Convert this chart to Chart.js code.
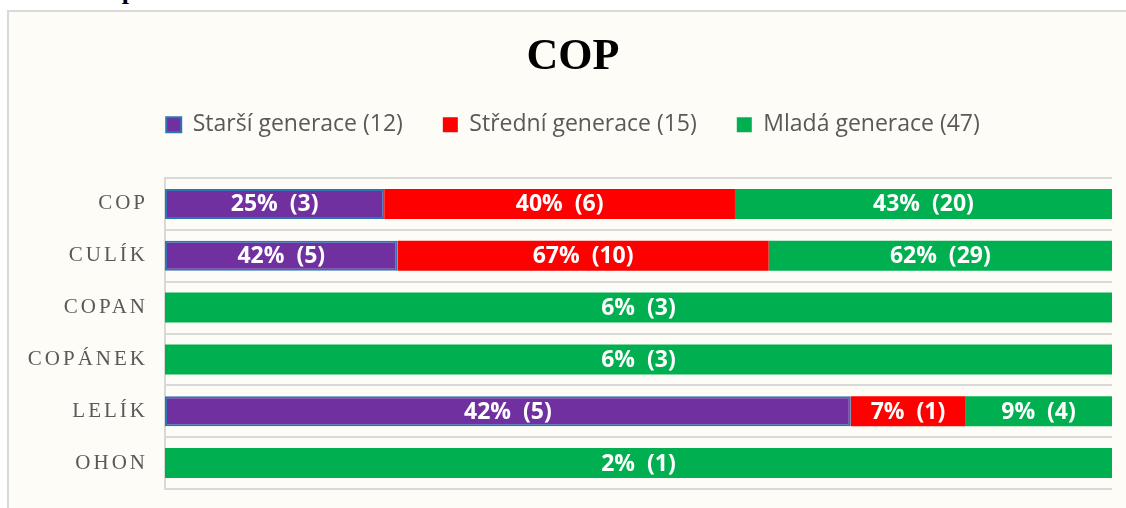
<!DOCTYPE html>
<html>
<head>
<meta charset="utf-8">
<script src="https://cdn.jsdelivr.net/npm/chart.js@4/dist/chart.umd.min.js"></script>
<style>
html, body { margin: 0; padding: 0; background: #fff; width: 1126px; height: 508px; overflow: hidden; }
#cap { position: absolute; left: 2px; top: -24px; font: bold 26px "Liberation Serif", serif; color: #000; white-space: nowrap; }
#frame { position: absolute; left: 7px; top: 10px; width: 1140px; height: 520px; border: 2px solid #d9d9d9; background: #fdfcf7; box-sizing: border-box; }
#wrap { position: absolute; left: 0; top: 0; width: 1126px; height: 508px; }
</style>
</head>
<body>
<div id="cap">Graf 1: Cop</div>
<div id="frame"></div>
<div id="wrap"><canvas id="myChart" width="1126" height="508"></canvas></div>
<script>
// values
var categories = ['COP', 'CULÍK', 'COPAN', 'COPÁNEK', 'LELÍK', 'OHON'];
var seriesNames = ['Starší generace', 'Střední generace', 'Mladá generace'];
var seriesTotals = [12, 15, 47];

var olderPct = [25, 42, null, null, 42, null];
var olderCount = [3, 5, null, null, 5, null];
var middlePct = [40, 67, null, null, 7, null];
var middleCount = [6, 10, null, null, 1, null];
var youngPct = [43, 62, 6, 6, 9, 2];
var youngCount = [20, 29, 3, 3, 4, 1];

// 100% stacked: each row is scaled to its own sum
var rowSums = categories.map(function(c, i) {
  return (olderPct[i] || 0) + (middlePct[i] || 0) + (youngPct[i] || 0);
});
function share(arr) {
  return arr.map(function(v, i) { return v == null ? null : v / rowSums[i] * 100; });
}

var barLabels = {
  id: 'barLabels',
  afterDatasetsDraw: function(chart) {
    var c = chart.ctx;
    c.save();
    c.font = 'bold 23px "Open Sans"';
    c.fillStyle = '#fff';
    c.textAlign = 'center';
    c.textBaseline = 'middle';
    chart.data.datasets.forEach(function(ds, i) {
      chart.getDatasetMeta(i).data.forEach(function(bar, j) {
        var p = ds.pct[j];
        if (p == null) return;
        c.fillText(p + '%  (' + ds.counts[j] + ')', (bar.x + bar.base) / 2, bar.y + 1);
      });
    });
    c.restore();
  }
};

// category names are letter-spaced and wider than the axis box
var spacedTicks = {
  id: 'spacedTicks',
  beforeDraw: function(chart) {
    var s = chart.scales.y;
    if (s._spaced) return;
    var orig = s.drawLabels;
    s._computeLabelArea = function() { return undefined; };
    s.drawLabels = function(area) {
      this.ctx.save();
      this.ctx.letterSpacing = '3px';
      orig.call(this, area);
      this.ctx.restore();
    };
    s._spaced = true;
  }
};

var ctx = document.getElementById('myChart');
var myChart = new Chart(ctx, {
  type: 'bar',
  data: {
    labels: categories,
    datasets: [{
      label: seriesNames[0] + ' (' + seriesTotals[0] + ')',
      data: share(olderPct),
      pct: olderPct,
      counts: olderCount,
      backgroundColor: '#7030A0',
      borderColor: '#2E75B6',
      borderWidth: 2,
      borderSkipped: false
    }, {
      label: seriesNames[1] + ' (' + seriesTotals[1] + ')',
      data: share(middlePct),
      pct: middlePct,
      counts: middleCount,
      backgroundColor: '#FF0000',
      borderWidth: 0
    }, {
      label: seriesNames[2] + ' (' + seriesTotals[2] + ')',
      data: share(youngPct),
      pct: youngPct,
      counts: youngCount,
      backgroundColor: '#00B050',
      borderWidth: 0
    }]
  },
  options: {
    indexAxis: 'y',
    responsive: false,
    animation: false,
    categoryPercentage: 1,
    barPercentage: 0.58,
    layout: { padding: { top: 20, left: 34, right: 14, bottom: 19 } },
    plugins: {
      tooltip: { enabled: false },
      title: {
        display: true,
        text: 'COP',
        color: '#000',
        font: { family: 'Liberation Serif', size: 44, weight: 'bold', lineHeight: 0.6 },
        padding: { top: 24.8, bottom: 2 }
      },
      legend: {
        display: true,
        labels: {
          color: '#595959',
          font: { family: 'Open Sans', size: 23 },
          boxWidth: 15,
          boxHeight: 15,
          padding: 40
        }
      }
    },
    scales: {
      x: {
        position: 'top',
        stacked: true,
        min: 0,
        max: 100,
        grid: { display: false, drawTicks: false },
        border: { display: false },
        ticks: { display: false },
        title: { display: true, text: '', font: { size: 10, lineHeight: 1.2 }, padding: { top: 0, bottom: 19.8 } }
      },
      y: {
        stacked: true,
        grid: { color: '#d9d9d9', lineWidth: 2, drawTicks: false },
        border: { color: '#d9d9d9', width: 2 },
        ticks: { color: '#595959', padding: 17, font: { family: 'Liberation Serif', size: 21 } },
        afterFit: function(scale) {
          scale.width = 131;
          scale.paddingTop = 0;
          scale.paddingBottom = 0;
        }
      }
    }
  },
  plugins: [barLabels, spacedTicks]
});
</script>
</body>
</html>
